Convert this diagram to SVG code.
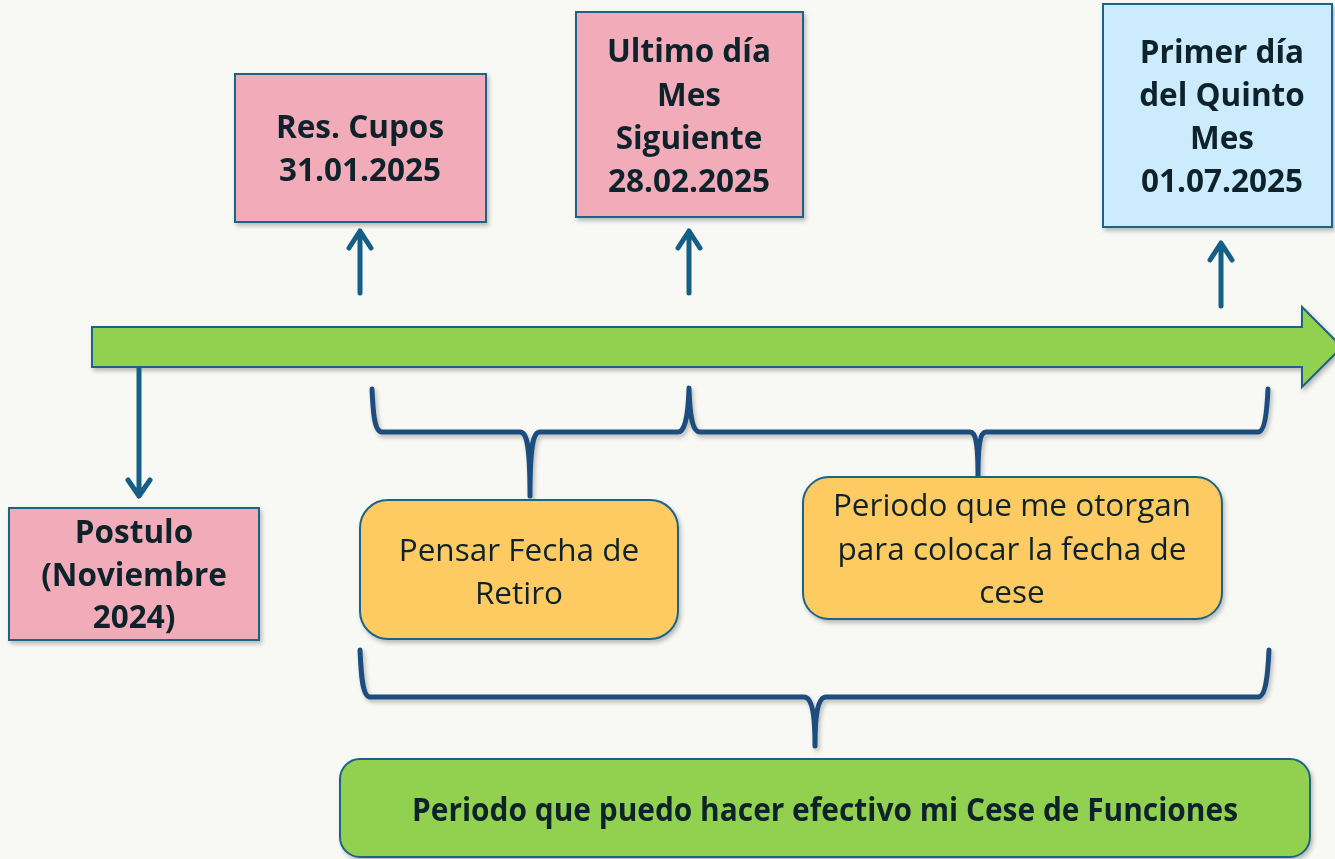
<svg xmlns="http://www.w3.org/2000/svg" width="1335" height="859" viewBox="0 0 1335 859">
<defs>
<filter id="sh" x="-10%" y="-10%" width="120%" height="130%">
<feDropShadow dx="2" dy="3" stdDeviation="2" flood-color="#000" flood-opacity="0.25"/>
</filter>
<style>
.pink{fill:#F2ACB9;stroke:#1F6388;stroke-width:2}
.blue{fill:#CCEBFD;stroke:#1F6388;stroke-width:2}
.orange{fill:#FECB62;stroke:#1F6388;stroke-width:2}
.green{fill:#92D050;stroke:#1F6388;stroke-width:2}
.b{font-family:"Open Sans","Liberation Sans",sans-serif;font-weight:bold;font-size:31.5px;fill:#10242A;text-anchor:middle}
.r{font-family:"Open Sans","Liberation Sans",sans-serif;font-size:31.5px;fill:#10242A;text-anchor:middle}
.arr{fill:none;stroke:#145F86;stroke-width:5;stroke-linecap:round;stroke-linejoin:round}
.brace{fill:none;stroke:#1F4E7E;stroke-width:5;stroke-linecap:round;stroke-linejoin:round}
</style>
</defs>
<rect width="1335" height="859" fill="#F8F8F4"/>

<g id="timeline" filter="url(#sh)">
<path class="green" d="M92,327 H1302 V307 L1342,347 L1302,387 V367 H92 Z"/>
</g>

<g id="connectors">
<path class="arr" d="M139,369 V496 M128,480 L139,496 L150,480"/>
<path class="arr" d="M360,293 V231 M349,248 L360,231 L371,248"/>
<path class="arr" d="M689,293 V231 M678,248 L689,231 L700,248"/>
<path class="arr" d="M1221,306 V243 M1210,260 L1221,243 L1232,260"/>
<g filter="url(#sh)">
<path class="brace" d="M372,389 C373,410 374,432 382,432 H520 C527,432 530,445 530,496 C530,445 533,432 540,432 H678 C684,432 688,420 689,388 C690,420 693,432 700,432 H970 C976,432 978,445 978,476 C978,445 980,432 986,432 H1258 C1265,432 1267,410 1268,389"/>
<path class="brace" d="M360,650 C361,672 362,697 370,697 H804 C812,697 815,715 815,746 C815,715 818,697 826,697 H1258 C1266,697 1268,672 1269,650"/>
</g>
</g>

<g id="res-cupos" filter="url(#sh)">
<rect class="pink" x="235" y="74" width="251" height="148"/>
<text class="b" x="360" y="138">Res. Cupos</text>
<text class="b" x="360" y="181">31.01.2025</text>
</g>

<g id="ultimo-dia" filter="url(#sh)">
<rect class="pink" x="576" y="12" width="227" height="205"/>
<text class="b" x="689" y="62">Ultimo día</text>
<text class="b" x="689" y="106">Mes</text>
<text class="b" x="689" y="149">Siguiente</text>
<text class="b" x="689" y="192">28.02.2025</text>
</g>

<g id="primer-dia" filter="url(#sh)">
<rect class="blue" x="1103" y="4" width="229" height="223"/>
<text class="b" x="1222" y="63">Primer día</text>
<text class="b" x="1222" y="106">del Quinto</text>
<text class="b" x="1222" y="149">Mes</text>
<text class="b" x="1222" y="192">01.07.2025</text>
</g>

<g id="postulo" filter="url(#sh)">
<rect class="pink" x="9" y="508" width="250" height="132"/>
<text class="b" x="134" y="543">Postulo</text>
<text class="b" x="134" y="586">(Noviembre</text>
<text class="b" x="134" y="628">2024)</text>
</g>

<g id="pensar" filter="url(#sh)">
<rect class="orange" x="360" y="500" width="318" height="139" rx="28"/>
<text class="r" x="519" y="561">Pensar Fecha de</text>
<text class="r" x="519" y="604">Retiro</text>
</g>

<g id="periodo-otorgan" filter="url(#sh)">
<rect class="orange" x="803" y="477" width="419" height="142" rx="26"/>
<text class="r" x="1012" y="516">Periodo que me otorgan</text>
<text class="r" x="1012" y="560">para colocar la fecha de</text>
<text class="r" x="1012" y="603">cese</text>
</g>

<g id="periodo-cese" filter="url(#sh)">
<rect class="green" x="340" y="759" width="970" height="98" rx="20"/>
<text class="b" x="825" y="821" font-size="29" textLength="826" lengthAdjust="spacingAndGlyphs">Periodo que puedo hacer efectivo mi Cese de Funciones</text>
</g>
</svg>
